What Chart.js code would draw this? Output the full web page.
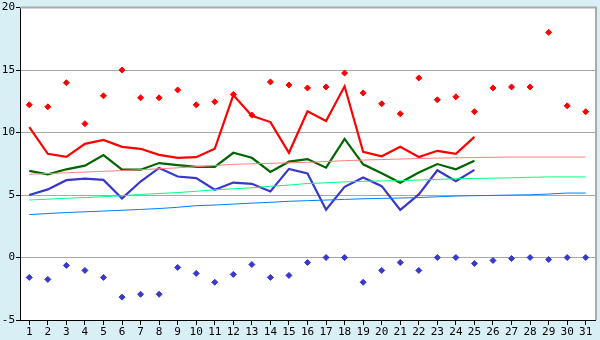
<!DOCTYPE html>
<html>
<head>
<meta charset="utf-8">
<script src="https://cdn.jsdelivr.net/npm/chart.js@4/dist/chart.umd.min.js"></script>
<style>
  html, body { margin: 0; padding: 0; background: #d9eff6; }
  #wrap { width: 600px; height: 340px; }
</style>
</head>
<body>
<div id="wrap"><canvas id="chart" width="600" height="340"></canvas></div>
<script>
const days = ['1','2','3','4','5','6','7','8','9','10','11','12','13','14','15','16','17','18','19','20','21','22','23','24','25','26','27','28','29','30','31']

// daily values (first 25 days)
const maxTemp = [10.44, 8.3, 8.06, 9.1, 9.41, 8.86, 8.7, 8.22, 7.98, 8.03, 8.7, 13.0, 11.35, 10.84, 8.38, 11.71, 10.92, 13.7, 8.46, 8.1, 8.86, 8.04, 8.54, 8.3, 9.65]
const meanTemp = [6.93, 6.66, 7.06, 7.35, 8.2, 7.03, 7.03, 7.56, 7.4, 7.25, 7.25, 8.38, 7.98, 6.85, 7.67, 7.88, 7.19, 9.49, 7.46, 6.75, 5.98, 6.8, 7.48, 7.06, 7.75]
const minTemp = [5.0, 5.45, 6.19, 6.32, 6.21, 4.73, 6.08, 7.17, 6.48, 6.35, 5.42, 6.0, 5.9, 5.29, 7.09, 6.72, 3.83, 5.66, 6.4, 5.71, 3.81, 5.05, 6.98, 6.11, 7.01]

// record highs / lows
const recordHigh = [12.22, 12.06, 13.99, 10.71, 12.94, 15.0, 12.78, 12.78, 13.41, 12.22, 12.46, 13.05, 11.4, 14.05, 13.81, 13.57, 13.65, 14.76, 13.17, 12.3, 11.5, 14.37, 12.62, 12.86, 11.67, 13.57, 13.65, 13.65, 18.02, 12.14, 11.67]
const recordLow = [-1.59, -1.75, -0.63, -1.03, -1.59, -3.17, -2.94, -2.94, -0.79, -1.27, -1.98, -1.35, -0.56, -1.59, -1.43, -0.4, 0.0, 0.0, -1.98, -1.03, -0.4, -1.03, 0.0, 0.0, -0.48, -0.24, -0.08, 0.0, -0.16, 0.0, 0.0]

// long-term normals
const normalMax = [6.66, 6.72, 6.78, 6.84, 6.9, 6.96, 7.03, 7.1, 7.18, 7.27, 7.36, 7.46, 7.5, 7.54, 7.58, 7.62, 7.68, 7.75, 7.8, 7.84, 7.88, 7.92, 7.96, 7.98, 8.0, 8.02, 8.04, 8.04, 8.04, 8.04, 8.04]
const normalMean = [4.6, 4.67, 4.74, 4.8, 4.87, 4.94, 5.05, 5.12, 5.2, 5.3, 5.42, 5.5, 5.58, 5.7, 5.8, 5.92, 5.98, 6.05, 6.1, 6.13, 6.15, 6.2, 6.25, 6.3, 6.33, 6.35, 6.38, 6.42, 6.45, 6.45, 6.45]
const normalMin = [3.44, 3.52, 3.6, 3.66, 3.72, 3.78, 3.85, 3.92, 4.02, 4.15, 4.2, 4.28, 4.35, 4.42, 4.5, 4.55, 4.6, 4.65, 4.7, 4.73, 4.76, 4.8, 4.86, 4.92, 4.95, 4.97, 5.0, 5.02, 5.08, 5.16, 5.16]

const yTicks = [-5, 0, 5, 10, 15, 20]

const frame = {
  id: 'frame',
  beforeDraw (chart) {
    const { ctx, chartArea: a } = chart
    ctx.save()
    ctx.fillStyle = '#ffffff'
    ctx.fillRect(a.left, a.top, a.right - a.left, a.bottom - a.top)
    ctx.restore()
  },
  afterDraw (chart) {
    const { ctx, chartArea: a } = chart
    ctx.save()
    ctx.strokeStyle = '#aaaaaa'
    ctx.lineWidth = 2
    ctx.beginPath()
    ctx.moveTo(a.left, a.top)
    ctx.lineTo(a.right + 1, a.top)
    ctx.lineTo(a.right + 1, a.bottom)
    ctx.stroke()
    ctx.restore()
  }
}

const line = (data, color, width) => ({
  type: 'line', data, borderColor: color, backgroundColor: color,
  borderWidth: width, pointRadius: 0, tension: 0, fill: false
})
const dots = (data, color) => ({
  type: 'line', data, showLine: false, borderColor: color, backgroundColor: color,
  pointStyle: 'rectRot', pointRadius: 3, pointBorderWidth: 1
})

new Chart(document.getElementById('chart'), {
  type: 'line',
  data: {
    labels: days,
    datasets: [
      line(normalMin, '#0080ff', 1),
      line(normalMean, '#00ff80', 1),
      line(normalMax, '#ff8080', 1),
      line(minTemp, '#3838cc', 2.2),
      line(meanTemp, '#006600', 2.2),
      line(maxTemp, '#ff0000', 2.2),
      dots(recordHigh, '#ff0000'),
      dots(recordLow, '#3838cc')
    ]
  },
  options: {
    responsive: false,
    animation: false,
    layout: { padding: { left: 0, top: 5, right: 5, bottom: 0 } },
    plugins: { legend: { display: false }, tooltip: { enabled: false } },
    scales: {
      x: {
        offset: true,
        afterFit: s => { s.height = 20 },
        grid: { offset: false, drawOnChartArea: false, tickLength: 5, tickColor: '#000000' },
        border: { color: '#000000', width: 1 },
        ticks: { color: '#000000', padding: 1, maxRotation: 0, autoSkip: false, font: { family: 'DejaVu Sans Mono', size: 11 } }
      },
      y: {
        min: -5,
        max: 20,
        afterFit: s => { s.width = 20 },
        afterBuildTicks: s => { s.ticks = yTicks.map(v => ({ value: v })) },
        grid: { color: '#a8a8a8', lineWidth: 1, tickLength: 4, tickColor: '#000000' },
        border: { color: '#000000', width: 1 },
        ticks: { color: '#000000', padding: 1, font: { family: 'DejaVu Sans Mono', size: 11 } }
      }
    }
  },
  plugins: [frame]
})
</script>
</body>
</html>
